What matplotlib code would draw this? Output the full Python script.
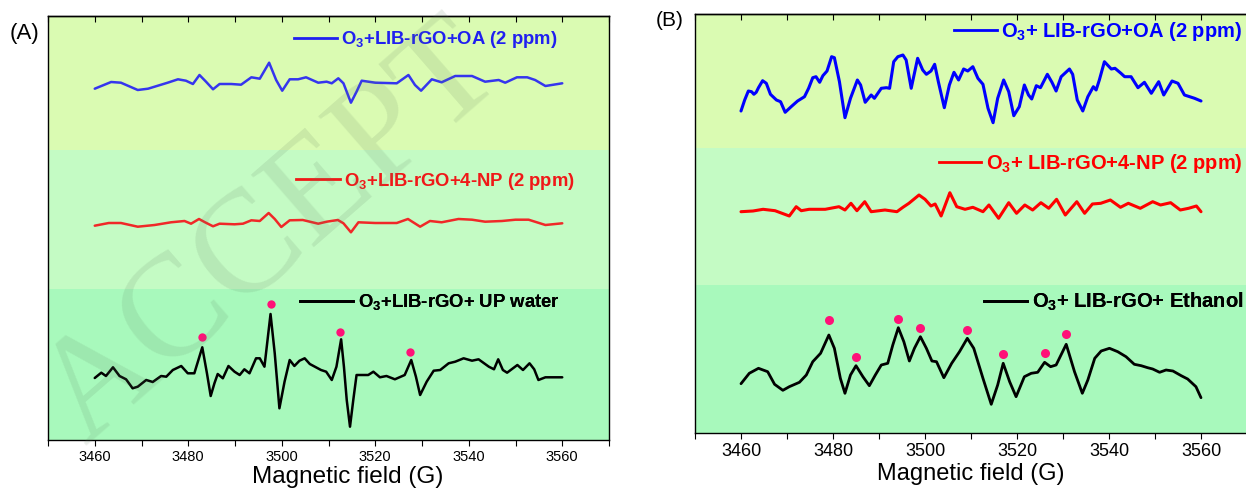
import numpy as np
import matplotlib.pyplot as plt
from matplotlib.lines import Line2D
from matplotlib.ticker import MultipleLocator

plt.rcParams['font.family'] = ['Liberation Sans', 'DejaVu Sans']
plt.rcParams['mathtext.fontset'] = 'custom'
plt.rcParams['mathtext.rm'] = 'Liberation Sans:bold'
plt.rcParams['mathtext.default'] = 'rm'

# ---- panel (A) spectra, field in G, intensity in a.u. (relative to own baseline)
fieldA_oa = [3460, 3463.5, 3465.6, 3469.2, 3471.4, 3475.6, 3477.8, 3479.5, 3481, 3482.4,
             3483.8, 3485.3, 3486.7, 3489.2, 3491.3, 3493.5, 3495.3, 3497.3, 3498.8, 3500.1,
             3501.7, 3503.5, 3505.2, 3507.8, 3509.6, 3510.7, 3512.1, 3513.2, 3514.8, 3516,
             3517.1, 3520, 3524.6, 3527.1, 3528.5, 3529.8, 3532.1, 3534.2, 3537.1, 3540.7,
             3543.5, 3546.4, 3547.8, 3550.3, 3552.5, 3554.2, 3556.4, 3560]
intA_oa = [0, 6.7, 6, -1.3, 0, 6, 9.4, 8, 4.7, 13.7,
           7, -0.6, 4.7, 4.7, 4, 11.4, 10, 26, 8.7, -2,
           9.4, 9.4, 11.4, 6, 7, 5.4, 10.4, 5.4, -14, -3,
           8, 6, 5.4, 13.7, 3.7, -2, 9.4, 6.4, 12.7, 12.7,
           7, 8.7, 6, 11.4, 11.4, 8.7, 2.7, 5.4]

fieldA_np = [3460, 3463, 3465.6, 3469.2, 3472.8, 3476.3, 3479.2, 3480.6, 3482.3, 3483.6,
             3485.3, 3486.7, 3489.9, 3491.7, 3493.5, 3495.3, 3497.2, 3498.5, 3499.9, 3501.7,
             3504.5, 3507.8, 3509.6, 3512, 3513.2, 3514.8, 3516.4, 3520, 3524.6, 3527,
             3529.6, 3531.7, 3534.2, 3537.8, 3540.7, 3543.5, 3547.1, 3550, 3552.8, 3556.4,
             3560]
intA_np = [0, 2.7, 2.7, -1, 0.7, 3.4, 4.7, 2, 6.7, 3.4,
           -0.6, 2, 1.4, 2, 5.4, 4.7, 12.7, 6.7, -1.3, 5.4,
           5.7, 2, 4, 5.7, 2.4, -6.6, 3.4, 2.7, 2.7, 6.7,
           -1, 4.7, 3.4, 6.7, 6, 4, 4.7, 6, 6, 0.7,
           2.4]

fieldA_w = [3460, 3461.4, 3462.4, 3463.9, 3465.3, 3466.7, 3468.1, 3469.2, 3471, 3472.4,
            3474.2, 3475.3, 3476.7, 3478.5, 3479.9, 3481.3, 3483, 3484, 3484.8, 3485.6,
            3486.3, 3487.4, 3488.6, 3489.9, 3491, 3492, 3493.1, 3494.5, 3495.3, 3496.3,
            3497.6, 3498.5, 3499.5, 3500.6, 3501.7, 3502.7, 3503.8, 3504.9, 3506, 3508.4,
            3509.5, 3510.7, 3511.7, 3512.7, 3513.3, 3513.9, 3514.6, 3515.3, 3516, 3516.7,
            3518.5, 3519.6, 3521, 3522.4, 3524.2, 3526.3, 3527.7, 3528.7, 3529.6, 3531,
            3532.5, 3533.9, 3535.7, 3537.1, 3538.9, 3540.7, 3542.1, 3544.3, 3545.4, 3546.3,
            3547.3, 3548.2, 3550.4, 3551.6, 3553, 3554, 3554.9, 3556.4, 3560]
intA_w = [0, 5.3, 2, 10.7, 2, -1.3, -10.3, -8.7, -2, -4,
          2, 1.3, 8, 12, 4.7, 4.7, 30.7, 4.7, -18, -5.3,
          4, -0.3, 12, 6.3, 3, 8.7, 4.7, 19.7, 19.7, 11.3,
          64, 24.7, -30.3, -3.7, 18, 12, 17.3, 19.7, 14, 8,
          6.3, -2, 11.3, 38.7, 11.3, -22, -48.7, -22, 3, 3,
          3, 6.3, 0.7, 2, -1.3, 3, 18, 1.3, -17, -3.7,
          7.3, 8, 14.7, 16.3, 19.7, 17.3, 18.7, 11.3, 8.7, 18.7,
          8, 5.3, 13, 8, 14.7, 8.7, -2, 0.7, 0.7]

peakA_field = [3483, 3497.7, 3512.5, 3527.4]
peakA_int = [40.7, 74, 46.3, 26.3]

# ---- panel (B) spectra
fieldB_oa = [3460, 3460.8, 3461.6, 3462.3, 3462.8, 3463.3, 3463.8, 3464.7, 3465.5, 3466.4,
             3467.7, 3468.6, 3469.6, 3470.9, 3472.3, 3473.8, 3474.7, 3475.6, 3476.3, 3477.1,
             3477.8, 3478.7, 3479.7, 3480.3, 3481.4, 3482.6, 3483.8, 3485.3, 3486, 3487,
             3488.3, 3489, 3490.5, 3491.6, 3492.3, 3493.2, 3494.1, 3495.2, 3495.9, 3497,
             3498.4, 3499.5, 3500.3, 3501.3, 3502.1, 3502.9, 3504.2, 3505.3, 3506.3, 3507.3,
             3508.4, 3509.3, 3510.4, 3511.5, 3512.6, 3513.7, 3514.8, 3515.8, 3517.1, 3518.2,
             3519.3, 3520.5, 3521.6, 3522.5, 3523.2, 3524.2, 3525.1, 3526.6, 3527.6, 3528.5,
             3529.6, 3531.4, 3532.1, 3533.1, 3534.3, 3535.4, 3536.6, 3537.2, 3537.9, 3539,
             3540.5, 3541.3, 3542.6, 3543.4, 3544.8, 3546.3, 3547.7, 3549.2, 3550.8, 3551.9,
             3553.7, 3555, 3556.4, 3558.6, 3560]
intB_oa = [0, 11, 20, 19.3, 16.7, 18.7, 23.3, 30.3, 27.7, 16.7,
           11, 9.3, -1.3, 4.3, 10, 14.3, 22.7, 33.3, 34.3, 28.7,
           35.3, 40, 54.3, 53.3, 29.3, -6.7, 12.7, 31, 26, 8.7,
           16, 12.7, 22.7, 23.3, 22.7, 49.3, 54.3, 56, 51, 22.7,
           52.7, 41, 36.7, 40, 46.7, 29.3, 3.3, 26, 38.7, 31,
           42, 40, 44.3, 32.7, 26.7, 2.7, -11.7, 12.7, 31, 19.3,
           -4.7, 4.3, 26, 16, 12, 25.3, 23.3, 36.7, 28.7, 20,
           34.3, 42, 36.7, 11, 0, 14.3, 24.3, 21, 31, 49.3,
           42, 42.7, 37.7, 34.3, 34.3, 23.3, 28.7, 17.7, 29.3, 16,
           30, 27.7, 16, 12.7, 10]

fieldB_np = [3460, 3462.6, 3464.8, 3467.4, 3470.5, 3472, 3473.1, 3474.8, 3478.3, 3481.3,
             3482.6, 3483.9, 3485.2, 3486.9, 3488.3, 3491.3, 3493.9, 3495.2, 3496.5, 3498.7,
             3500, 3501.3, 3502.2, 3503.5, 3505.4, 3506.9, 3508.7, 3510.4, 3512.6, 3513.9,
             3516, 3518.2, 3519.9, 3521.7, 3523.4, 3525.2, 3526.9, 3528.6, 3530.5, 3533,
             3534.7, 3536.4, 3538.2, 3540.3, 3542.5, 3544.2, 3546.8, 3549.5, 3551.2, 3553.4,
             3555.5, 3557.3, 3559, 3560]
intB_np = [0, 0.7, 2.4, 1, -4.3, 5, 1, 2.4, 2.4, 5,
           1.7, 8.4, 1, 10, 0, 1.7, 0, 4.4, 8.4, 16.7,
           12.4, 5.7, 7.7, -4.3, 19, 5, 2.4, 4.4, 0, 6.7,
           -6.6, 9, -1.6, 6.7, 1.7, 9, 3.4, 12.4, -3.3, 10,
           -1.6, 7.7, 8.4, 11.7, 4.4, 8.4, 3.4, 10, 6.7, 9,
           1.7, 3.4, 5.7, 0]

fieldB_eth = [3460, 3461.8, 3463.8, 3465.8, 3467.3, 3469.1, 3470.5, 3472.7, 3474.2, 3475.6,
              3477.3, 3479.1, 3480.3, 3481.6, 3482.6, 3483.8, 3485, 3486.5, 3487.9, 3489.2,
              3490.5, 3491.9, 3493, 3494.2, 3495.4, 3496.6, 3497.7, 3499, 3500.3, 3501.5,
              3502.5, 3504.1, 3505.8, 3507.5, 3509.2, 3510.6, 3512.6, 3514.4, 3515.8, 3517,
              3518.4, 3519.8, 3521.6, 3523.1, 3524.5, 3526, 3527.3, 3528.5, 3530.7, 3532.5,
              3534.2, 3535.4, 3536.9, 3538.3, 3540.1, 3541.9, 3543.7, 3545.5, 3547, 3548.4,
              3549.5, 3551, 3552.4, 3553.9, 3555.7, 3557.1, 3558.9, 3560]
intB_eth = [0, 10.4, 15.4, 12, -0.6, -6.6, -3, 1.4, 8.7, 22,
            30.4, 48.7, 35.4, 5.4, -9.6, 8.7, 18, 7, -2, 8.7,
            18.7, 20.4, 38.7, 56, 42, 22.7, 35.4, 47, 35.4, 22.7,
            22, 6, 20.4, 32, 45.4, 35.4, 5.4, -20.6, -1.3, 20.4,
            2, -13, 7, 10.4, 11.4, 21.4, 17, 18.7, 39.4, 12,
            -9.6, 3.7, 25.4, 32.7, 35.4, 32, 27, 19.4, 18, 16,
            14.7, 11.4, 13.7, 12.7, 8, 4.7, -3, -14]

peakB_field = [3479.2, 3485, 3494.1, 3499, 3509.2, 3516.9, 3526, 3530.7]
peakB_int = [63.7, 27, 64.7, 55.4, 53.7, 29.4, 30.4, 49.7]

labelsA = ['O$_3$+LIB-rGO+OA (2 ppm)', 'O$_3$+LIB-rGO+4-NP (2 ppm)', 'O$_3$+LIB-rGO+ UP water']
labelsB = ['O$_3$+ LIB-rGO+OA (2 ppm)', 'O$_3$+ LIB-rGO+4-NP (2 ppm)', 'O$_3$+ LIB-rGO+ Ethanol']

band_colors = ['#a8f9bc', '#c4fbc4', '#dafbb2']
dot_color = '#ff1178'

fig = plt.figure(figsize=(12.46, 4.93), dpi=100)
W, H = 1246, 493
axA = fig.add_axes([48 / W, 1 - 440 / H, 561 / W, 424.3 / H])
axB = fig.add_axes([695 / W, 1 - 433 / H, 552 / W, 419 / H])


def add_label(ax, text, color, x, y, hl, fs):
    h = Line2D([], [], color=color, lw=2)
    leg = ax.legend([h], [text], loc='center left', bbox_to_anchor=(x, y),
                    frameon=False, handlelength=hl, handletextpad=0.22,
                    borderaxespad=0, borderpad=0, labelcolor=color,
                    prop={'weight': 'bold', 'size': fs})
    ax.add_artist(leg)


def style_axes(ax, top, bands, fs, xlab_fs, xlab_pos):
    ax.set_xlim(3450, 3570)
    ax.set_ylim(0, top)
    lo = 0
    for b, c in zip(bands + [top], band_colors):
        ax.axhspan(lo, b, color=c, lw=0, zorder=0)
        lo = b
    ax.set_yticks([])
    ax.set_xticks(np.arange(3460, 3561, 20))
    ax.xaxis.set_minor_locator(MultipleLocator(10))
    ax.tick_params(axis='x', which='both', direction='out', length=4, width=0.8,
                   labelsize=fs, pad=3)
    sec = ax.secondary_xaxis('top')
    sec.set_xticks(np.arange(3450, 3571, 10))
    sec.tick_params(direction='in', length=4, width=0.8, labeltop=False)
    sec.spines['top'].set_linewidth(1)
    for s in ax.spines.values():
        s.set_linewidth(1)
    ax.set_xlabel('Magnetic field (G)', fontsize=xlab_fs)
    ax.xaxis.set_label_coords(*xlab_pos)


line_kw = dict(solid_joinstyle='round', solid_capstyle='round')

# panel A
style_axes(axA, 424.3, [151, 290.3], 10.5, 17.5, (0.535, -0.062))
axA.plot(fieldA_oa, np.array(intA_oa) + 351.3, color='#3535ee', lw=1.8, **line_kw)
axA.plot(fieldA_np, np.array(intA_np) + 214.3, color='#f02828', lw=1.8, **line_kw)
axA.plot(fieldA_w, np.array(intA_w) + 62, color='black', lw=1.8, **line_kw)
axA.plot(peakA_field, np.array(peakA_int) + 62, 'o', color=dot_color, ms=6, mec='none')
add_label(axA, labelsA[0], '#2020f0', 0.4385, 0.943, 2.35, 13.3)
add_label(axA, labelsA[1], '#f01818', 0.442, 0.610, 2.4, 13.3)
add_label(axA, labelsA[2], 'black', 0.449, 0.325, 2.9, 13.3)

# panel B
style_axes(axB, 419, [148, 285.3], 13, 17, (0.5, -0.072))
axB.plot(fieldB_oa, np.array(intB_oa) + 322, color='#0000ff', lw=2.2, **line_kw)
axB.plot(fieldB_np, np.array(intB_np) + 221.3, color='#ff0000', lw=2.2, **line_kw)
axB.plot(fieldB_eth, np.array(intB_eth) + 49.3, color='black', lw=2.0, **line_kw)
axB.plot(peakB_field, np.array(peakB_int) + 49.3, 'o', color=dot_color, ms=6.5, mec='none')
add_label(axB, labelsB[0], '#0000ff', 0.470, 0.958, 2.1, 14.5)
add_label(axB, labelsB[1], '#ff0000', 0.442, 0.644, 2.1, 14.5)
add_label(axB, labelsB[2], 'black', 0.5236, 0.313, 2.15, 14.5)

fig.text(10 / W, 1 - 33 / H, '(A)', fontsize=16, va='center')
fig.text(656 / W, 1 - 21 / H, '(B)', fontsize=15, va='center')

# faint watermark over panel A
fig.text(85 / W, 1 - 445 / H, 'ACCEPT', rotation=41, rotation_mode='anchor',
         ha='left', va='baseline', fontsize=105, family='Liberation Serif',
         color='#5f7f5f', alpha=0.14)

fig.savefig('out.png', dpi=100)
